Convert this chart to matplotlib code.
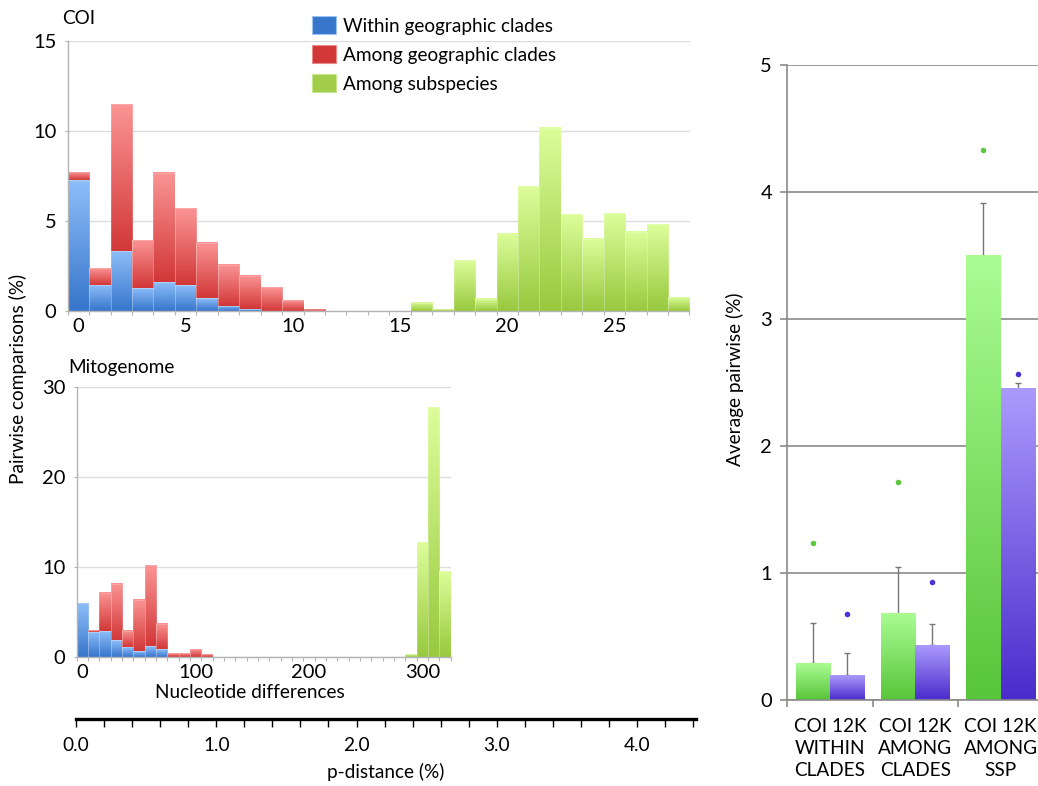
"""
Pairwise distance histograms (COI / mitogenome) with average pairwise bar panel.
"""

import matplotlib.colors as mcolors
import matplotlib.patches as mpatches
import matplotlib.pyplot as plt
import numpy as np

# ---- data -----------------------------------------------------------------
COI_BINS = list(range(29))
COI_WITHIN = [7.3, 1.45, 3.35, 1.28, 1.6, 1.43, 0.7, 0.28, 0.1, 0, 0, 0, 0, 0, 0,
              0, 0, 0, 0, 0, 0, 0, 0, 0, 0, 0, 0, 0, 0]
COI_AMONG = [0.4, 0.92, 8.15, 2.66, 6.06, 4.27, 3.1, 2.3, 1.84, 1.33, 0.59, 0.08, 0, 0, 0,
             0, 0, 0, 0, 0, 0, 0, 0, 0, 0, 0, 0, 0, 0]
COI_SSP = [0, 0, 0, 0, 0, 0, 0, 0, 0, 0, 0, 0, 0, 0, 0,
           0, 0.46, 0.07, 2.83, 0.67, 4.3, 6.94, 10.18, 5.37, 4.02, 5.43, 4.41, 4.83, 0.76]
COI_XTICKS = [0, 5, 10, 15, 20, 25]

MITO_BINS = [0, 10, 20, 30, 40, 50, 60, 70, 80, 90, 100, 110, 120, 130, 140, 150, 160,
             170, 180, 190, 200, 210, 220, 230, 240, 250, 260, 270, 280, 290, 300, 310, 320]
MITO_WITHIN = [5.93, 2.78, 2.85, 1.81, 1.1, 0.63, 1.22, 0.81, 0, 0, 0, 0, 0, 0, 0, 0, 0,
               0, 0, 0, 0, 0, 0, 0, 0, 0, 0, 0, 0, 0, 0, 0, 0]
MITO_AMONG = [0, 0.18, 4.26, 6.3, 1.8, 5.67, 8.96, 2.82, 0.37, 0.37, 0.85, 0.3, 0, 0, 0, 0, 0,
              0, 0, 0, 0, 0, 0, 0, 0, 0, 0, 0, 0, 0, 0, 0, 0]
MITO_SSP = [0, 0, 0, 0, 0, 0, 0, 0, 0, 0, 0, 0, 0, 0, 0, 0, 0,
            0, 0, 0, 0, 0, 0, 0, 0, 0, 0, 0, 0, 0.3, 12.7, 27.7, 9.55]
MITO_XTICKS = [0, 100, 200, 300]

PDIST_TICKS = [0.0, 1.0, 2.0, 3.0, 4.0]
PDIST_LABELS = ["0.0", "1.0", "2.0", "3.0", "4.0"]

GROUPS = ["COI 12K\nWITHIN\nCLADES", "COI 12K\nAMONG\nCLADES", "COI 12K\nAMONG\nSSP"]
GREEN_MEAN = [0.29, 0.68, 3.50]
GREEN_ERR = [0.32, 0.37, 0.41]
GREEN_DOT = [1.24, 1.72, 4.33]
PURPLE_MEAN = [0.195, 0.43, 2.45]
PURPLE_ERR = [0.175, 0.17, 0.05]
PURPLE_DOT = [0.68, 0.93, 2.57]

LEGEND_LABELS = ["Within geographic clades", "Among geographic clades", "Among subspecies"]

# ---- style ----------------------------------------------------------------
BLUE = ("#8ebefa", "#3776cb")
RED = ("#fb9494", "#d23838")
LIME = ("#dcfd9a", "#98c93e")
GREEN = ("#a9fc92", "#58c53a")
PURPLE = ("#aa9afc", "#4a2ccc")
GRID_LIGHT = "#dddddd"
AXIS_GRAY = "#b4b4b4"
DARK_GRAY = "#8a8a8a"

FONT = "Lato"
FS = 13.7
TICK_FS = 14.5

plt.rcParams["font.family"] = [FONT, "DejaVu Sans"]
plt.rcParams["font.size"] = FS

W, H = 1038, 786


def fx(px):
    return px / W


def fy(py):
    return 1 - py / H


def gradient_bars(ax, bars, colors):
    top = np.array(mcolors.to_rgb(colors[0]))
    bot = np.array(mcolors.to_rgb(colors[1]))
    ramp = np.linspace(0, 1, 64)[:, None, None]
    img = bot + (top - bot) * ramp
    for bar in bars:
        h = bar.get_height()
        if h <= 0:
            bar.set_visible(False)
            continue
        x0, y0 = bar.get_xy()
        ax.imshow(img, extent=(x0, x0 + bar.get_width(), y0, y0 + h), origin="lower",
                  aspect="auto", interpolation="bilinear", zorder=bar.get_zorder() - 0.05)
        bar.set_facecolor("none")


def stacked_hist(ax, bins, width, layers):
    bottom = np.zeros(len(bins))
    for values, colors in layers:
        bars = ax.bar(bins, values, width=width, bottom=bottom, color=colors[1],
                      edgecolor=(1, 1, 1, 0.2), linewidth=0.6, zorder=2)
        gradient_bars(ax, bars, colors)
        bottom = bottom + np.array(values)


def style_hist(ax, ylim, yticks, xlim, xticks, edges):
    ax.set_xlim(*xlim)
    ax.set_ylim(*ylim)
    ax.set_yticks(yticks)
    ax.set_xticks(xticks)
    ax.set_xticks(edges, minor=True)
    ax.grid(axis="y", color=GRID_LIGHT, linewidth=1.0)
    ax.set_axisbelow(True)
    for side in ("top", "right"):
        ax.spines[side].set_visible(False)
    for side in ("left", "bottom"):
        ax.spines[side].set_color(AXIS_GRAY)
        ax.spines[side].set_linewidth(1.0)
    ax.tick_params(axis="x", which="major", length=0, pad=5, labelsize=TICK_FS)
    ax.tick_params(axis="x", which="minor", length=3, color=AXIS_GRAY, width=0.8)
    ax.tick_params(axis="y", length=2, color=AXIS_GRAY, pad=6, labelsize=TICK_FS)


fig = plt.figure(figsize=(W / 100, H / 100), dpi=100)

# ---- COI histogram --------------------------------------------------------
ax1 = fig.add_axes([fx(67.7), fy(311), fx(689.5) - fx(67.7), (311 - 41) / H])
stacked_hist(ax1, COI_BINS, 1.0, [(COI_WITHIN, BLUE), (COI_AMONG, RED), (COI_SSP, LIME)])
style_hist(ax1, (0, 15), [0, 5, 10, 15], (-0.5, 28.5), COI_XTICKS,
           np.arange(-0.5, 29, 1.0))
fig.text(fx(62), fy(19), "COI", fontsize=FS, va="center", ha="left")

# ---- mitogenome histogram -------------------------------------------------
ax2 = fig.add_axes([fx(76.7), fy(656.7), fx(450.7) - fx(76.7), (656.7 - 386.7) / H])
stacked_hist(ax2, MITO_BINS, 10.0, [(MITO_WITHIN, BLUE), (MITO_AMONG, RED), (MITO_SSP, LIME)])
style_hist(ax2, (0, 30), [0, 10, 20, 30], (-5, 325), MITO_XTICKS,
           np.arange(-5, 330, 10.0))
fig.text(fx(68), fy(368), "Mitogenome", fontsize=FS, va="center", ha="left")
fig.text(fx(250), fy(692), "Nucleotide differences", fontsize=FS, va="center", ha="center")

fig.text(fx(18), fy(378.5), "Pairwise comparisons (%)", fontsize=FS, rotation=90,
         va="center", ha="center")

# ---- p-distance scale -----------------------------------------------------
ax3 = fig.add_axes([fx(76), fy(719.3), fx(696) - fx(76), 0.0005])
ax3.set_xlim(0, 4.42)
ax3.set_ylim(0, 1)
ax3.set_yticks([])
for side in ("top", "right", "left"):
    ax3.spines[side].set_visible(False)
ax3.spines["bottom"].set_linewidth(2.4)
ax3.spines["bottom"].set_color("black")
ax3.set_xticks(PDIST_TICKS, PDIST_LABELS)
ax3.set_xticks(np.arange(0, 4.41, 0.2), minor=True)
ax3.tick_params(axis="x", which="both", length=6, width=1.0, color="black",
                direction="out", pad=7, labelsize=FS)
ax3.set_xlabel("p-distance (%)", fontsize=FS, labelpad=6)
ax3.patch.set_visible(False)

# ---- legend ---------------------------------------------------------------
handles = [
    mpatches.Patch(facecolor=BLUE[1], edgecolor="#9cc4f2", linewidth=0.8, label=LEGEND_LABELS[0]),
    mpatches.Patch(facecolor=RED[1], edgecolor="#e88a8a", linewidth=0.8, label=LEGEND_LABELS[1]),
    mpatches.Patch(facecolor="#a2cd4a", edgecolor="#c6e690", linewidth=0.8, label=LEGEND_LABELS[2]),
]
fig.legend(handles=handles, loc="upper left", bbox_to_anchor=(fx(311.5), fy(16)),
           frameon=False, fontsize=FS, handlelength=1.3, handleheight=1.1,
           handletextpad=0.35, labelspacing=0.55, borderpad=0, borderaxespad=0)

# ---- average pairwise bars ------------------------------------------------
ax4 = fig.add_axes([fx(787.3), fy(700), 1 - fx(787.3), (700 - 65) / H])
x = np.arange(len(GROUPS))
bw = 0.4
g_bars = ax4.bar(x - bw / 2, GREEN_MEAN, width=bw, color=GREEN[1], zorder=2)
p_bars = ax4.bar(x + bw / 2, PURPLE_MEAN, width=bw, color=PURPLE[1], zorder=2)
gradient_bars(ax4, g_bars, GREEN)
gradient_bars(ax4, p_bars, PURPLE)
ax4.errorbar(x - bw / 2, GREEN_MEAN, yerr=[[0] * 3, GREEN_ERR], fmt="none",
             ecolor="#777777", elinewidth=1.0, capsize=2, capthick=1.0, zorder=1.5)
ax4.errorbar(x + bw / 2, PURPLE_MEAN, yerr=[[0] * 3, PURPLE_ERR], fmt="none",
             ecolor="#777777", elinewidth=1.0, capsize=2, capthick=1.0, zorder=1.5)
ax4.scatter(x - bw / 2, GREEN_DOT, s=16, color="#5cc83e", zorder=3, linewidths=0)
ax4.scatter(x + bw / 2, PURPLE_DOT, s=16, color="#4a32d8", zorder=3, linewidths=0)

ax4.set_xlim(-0.5, -0.5 + (W - 787.3) / 85.3)
ax4.set_ylim(0, 5)
ax4.set_yticks([0, 1, 2, 3, 4, 5])
ax4.grid(axis="y", color=DARK_GRAY, linewidth=1.2)
ax4.set_axisbelow(True)
ax4.set_xticks(x, GROUPS)
ax4.set_xticks([-0.5, 0.5, 1.5], minor=True)
ax4.tick_params(axis="x", which="major", length=0, pad=13, labelsize=FS)
ax4.tick_params(axis="x", which="minor", length=5, width=1.2, color=DARK_GRAY)
ax4.tick_params(axis="y", length=5, width=1.2, color=DARK_GRAY, pad=6, labelsize=TICK_FS)
for lab in ax4.get_xticklabels():
    lab.set_linespacing(1.35)
for side in ("top", "right"):
    ax4.spines[side].set_visible(False)
for side in ("left", "bottom"):
    ax4.spines[side].set_color(DARK_GRAY)
    ax4.spines[side].set_linewidth(1.2)
fig.text(fx(735), fy(379), "Average pairwise (%)", fontsize=FS, rotation=90,
         va="center", ha="center")

fig.savefig("out.png", dpi=100)
